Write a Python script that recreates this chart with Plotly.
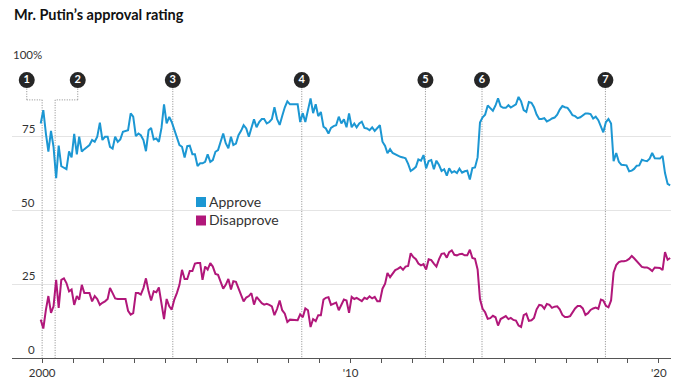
import pandas as pd
import plotly.graph_objects as go

# ---------------- data ----------------
first_month = "1999-12-01"

approve = [
    79.5,
    84, 76, 70, 77, 71.6, 61, 72, 65, 64.6, 64, 70, 68,
    76, 69, 75, 70, 70.8, 71.6, 72.2, 73.9, 73.3, 75, 79.8, 73.9,
    75, 75, 71.6, 71, 75, 73.3, 74.1, 76.7, 77, 77.2, 82.9, 81.8,
    75.2, 76.1, 75.5, 73.9, 70.1, 77.2, 78, 74.1, 74.4, 73.3, 78, 86,
    79.5, 81.7, 80, 77.2, 75, 72.2, 71.6, 68, 71.8, 72, 69.1, 69.1,
    65.1, 66, 66, 66.5, 69, 66.5, 67.1, 69.9, 70.5, 73.3, 76.1, 72.8,
    71.1, 75, 72.2, 72.7, 75.5, 77, 78.9, 77.8, 75, 78, 80.9, 78.2,
    80, 81, 81, 79.5, 80, 81, 85, 81, 79, 82, 85, 87,
    86, 86, 86, 86, 80, 83, 80, 84, 88, 83, 86, 82,
    83.4, 78.4, 77.8, 76.1, 78, 78.6, 78.9, 81.8, 79.5, 80.9, 78.2, 82.9,
    78.2, 79.5, 78.2, 79.5, 80.1, 78, 77.8, 77.2, 78.2, 77, 77.8, 78.9,
    73.3, 71.9, 69.4, 70.8, 69.5, 69.1, 68.5, 68.2, 68, 67.7, 65.8, 63.4,
    64, 64.8, 67.3, 66.9, 68.8, 64.3, 66.8, 67.1, 64, 66.9, 65.4, 63.4,
    64, 61.8, 64.3, 62.8, 63.3, 62.7, 64.2, 62.8, 63.3, 63.5, 60.5, 64.4,
    64.6, 68, 79.8, 81.6, 82.5, 85.6, 84.7, 83.8, 85.6, 88, 85.3, 84.8,
    84.8, 85.7, 84.9, 85.4, 86, 88.5, 87, 84, 83.4, 86.8, 86.5, 85,
    82.5, 81, 81, 81.3, 80.2, 80.6, 81.2, 81.5, 82.5, 84.2, 85.4, 85,
    84.8, 83.6, 82.3, 82, 81.3, 81.6, 82.4, 82.9, 82.9, 82.7, 81.2, 81.8,
    80.6, 78.5, 76.5, 80, 81, 79.5, 66.7, 69.5, 66.5, 65.5, 65.5, 65.3,
    63.3, 63.5, 64.1, 65.2, 65.3, 67.2, 66.9, 66.7, 67.6, 69.5, 67.7, 67.6,
    67.6, 68.5, 62.7, 59, 58.5,
]

disapprove = [
    13,
    10, 16.4, 21, 15.3, 17.5, 26.5, 17, 26.5, 27, 25.4, 22.6, 23.2,
    18, 21, 19.8, 24.8, 22, 22, 22, 19.2, 21, 20, 18, 18.7,
    19.2, 20, 23.7, 22, 20.2, 20, 20, 20, 20, 16, 14.7, 15.2,
    22, 22, 21.5, 23.7, 27, 22.6, 19.5, 22.6, 22.3, 23.9, 19, 13.2,
    20, 17.5, 16.4, 19.8, 22, 24.8, 29.9, 26.8, 26.8, 29.5, 29.5, 32,
    32.2, 32.2, 26.5, 31, 30, 32.2, 31, 28.5, 28.2, 26, 23.5, 24.8,
    26.8, 23.2, 26, 25.8, 23.5, 21.5, 19.2, 20.5, 21, 22, 18.1, 20.7,
    19.5, 18.6, 18.1, 18.4, 18, 17.5, 14.5, 16.6, 19.5, 16.2, 15, 12.2,
    13, 13, 13, 12.8, 14.8, 13.8, 16.8, 16.2, 10.5, 13.2, 12.5, 14.5,
    14.5, 19.8, 20.4, 20.6, 18, 18.4, 18.8, 16.2, 17.9, 19.8, 19.5, 15.3,
    20.7, 20, 20.4, 19.8, 19.3, 20.4, 20, 20.9, 20.2, 20.7, 19.2, 19.2,
    23.5, 25.2, 28.8, 27.4, 28.4, 29.8, 30.2, 30.8, 29.9, 31, 31.2, 35.5,
    34.2, 33.5, 32, 31.4, 31.8, 30, 33.5, 33.2, 32, 31, 33.5, 35.3,
    35.5, 34, 35.9, 36.5, 35, 34.8, 35.2, 35.3, 34.8, 34.8, 36.7, 33.9,
    33.6, 30, 20, 16.7, 15.5, 13.3, 13.5, 14.3, 13.8, 11, 13.2, 13.6,
    14.2, 13.2, 13.6, 12.9, 12.7, 11, 10.5, 14.5, 15, 12.6, 12.8, 13.6,
    16.5, 18, 17.8, 16.7, 18.3, 18, 17, 17.4, 17.5, 16.5, 14.6, 13.9,
    13.9, 14.2, 15.6, 16.8, 17.6, 17.6, 16.8, 14.6, 15.2, 16.3, 16.8, 17.1,
    16.7, 19.8, 19.5, 17.7, 17.2, 19.5, 29, 31.5, 32.5, 32.8, 32.8, 33,
    33.6, 34.6, 33.8, 32.7, 31.7, 30.9, 30.7, 30.7, 30.2, 29.5, 30.7, 30.7,
    30.5, 29.8, 35.9, 33.3, 33.9,
]

event_dates = ["2000-01-01", "2000-06-03", "2004-03-28", "2008-06-03",
               "2012-06-07", "2014-04-08", "2018-04-09"]
event_labels = ["1", "2", "3", "4", "5", "6", "7"]

y_ticks = [0, 25, 50, 75, 100]
y_tick_text = ["0", "25", "50", "75", "100%"]
x_tick_years = list(range(2000, 2021))
x_tick_text = ["2000" if y == 2000 else ("'" + str(y)[2:] if y % 10 == 0 else "")
               for y in x_tick_years]

series_names = ["Approve", "Disapprove"]
title_text = "Mr. Putin\u2019s approval rating"

# ---------------- styling ----------------
C_APPROVE = "#1c97d3"
C_DISAPPROVE = "#b1177a"
C_TEXT = "#333333"
FONT = "Lato, 'Open Sans', sans-serif"
NUM_FONT = "Lato, sans-serif"

W, H = 680, 383
ML, MR, MT, MB = 12, 9, 63, 25
PW, PH = W - ML - MR, H - MT - MB

def px_x(px):
    return (px - ML) / PW

def px_y(py):
    return (H - MB - py) / PH

assert len(approve) == len(disapprove)
dates = pd.date_range(first_month, periods=len(approve), freq="MS") + pd.Timedelta(days=14)

fig = go.Figure()
fig.add_trace(go.Scatter(x=dates, y=approve, mode="lines", name=series_names[0],
                         line=dict(color=C_APPROVE, width=2), hoverinfo="skip"))
fig.add_trace(go.Scatter(x=dates, y=disapprove, mode="lines", name=series_names[1],
                         line=dict(color=C_DISAPPROVE, width=2), hoverinfo="skip"))

# event markers
marker_y = 94.2
line_top = 91.3
elbow_y = 87.5
label_offset_days = [-182, 268, 0, 0, 0, 0, 0]
ev = pd.to_datetime(event_dates)
label_x = [d + pd.Timedelta(days=o) for d, o in zip(ev, label_offset_days)]

shapes = []
dot = dict(color="#8a8a8a", width=1, dash="1px,1.5px")
for d, lx, off in zip(ev, label_x, label_offset_days):
    if off != 0:
        shapes.append(dict(type="line", xref="x", yref="y", x0=lx, x1=lx,
                           y0=line_top, y1=elbow_y, line=dot, layer="between"))
        shapes.append(dict(type="line", xref="x", yref="y", x0=lx, x1=d,
                           y0=elbow_y, y1=elbow_y, line=dot, layer="between"))
        shapes.append(dict(type="line", xref="x", yref="y", x0=d, x1=d,
                           y0=elbow_y, y1=0, line=dot, layer="between"))
    else:
        shapes.append(dict(type="line", xref="x", yref="y", x0=d, x1=d,
                           y0=line_top, y1=0, line=dot, layer="between"))

fig.add_trace(go.Scatter(
    x=label_x, y=[marker_y] * len(label_x), mode="markers+text",
    text=["<b>" + t + "</b>" for t in event_labels], textposition="middle center",
    textfont=dict(color="white", size=11, family="Lato, sans-serif"),
    marker=dict(size=16, color="#262626", line=dict(width=0)),
    cliponaxis=False, showlegend=False, hoverinfo="skip"))

# legend (custom squares)
leg_x0 = 196
leg_rows = [(197, C_APPROVE, series_names[0]), (215.5, C_DISAPPROVE, series_names[1])]
annotations = []
for top, col, name in leg_rows:
    shapes.append(dict(type="rect", xref="paper", yref="paper",
                       x0=px_x(leg_x0), x1=px_x(leg_x0 + 10),
                       y0=px_y(top + 10), y1=px_y(top),
                       fillcolor=col, line=dict(width=0)))
    annotations.append(dict(xref="paper", yref="paper", x=px_x(leg_x0 + 11),
                            y=px_y(top + 4), text=name, showarrow=False,
                            xanchor="left", yanchor="middle",
                            font=dict(family=FONT, size=14, color=C_TEXT)))

# y labels above gridlines
for v, t in zip(y_ticks, y_tick_text):
    right = 44 if t.endswith("%") else 37
    annotations.append(dict(xref="paper", yref="y", x=px_x(right), y=v,
                            text=t, showarrow=False, xanchor="right",
                            yanchor="bottom", yshift=0,
                            font=dict(family=NUM_FONT, size=11.5, color=C_TEXT)))

# title
annotations.append(dict(xref="paper", yref="paper", x=px_x(12), y=px_y(15),
                        text="<b>" + title_text + "</b>", showarrow=False,
                        xanchor="left", yanchor="middle",
                        font=dict(family=FONT, size=14.5, color="#111111")))

fig.update_layout(
    width=W, height=H,
    margin=dict(l=ML, r=MR, t=MT, b=MB, pad=0, autoexpand=False),
    paper_bgcolor="white", plot_bgcolor="white",
    showlegend=False, hovermode=False,
    shapes=shapes, annotations=annotations,
    xaxis=dict(type="date", range=["1999-01-09", "2020-05-25"], automargin=False,
               tickvals=[pd.Timestamp(f"{y}-01-01") for y in x_tick_years],
               ticktext=x_tick_text, ticks="outside", ticklen=4, tickwidth=1,
               tickcolor="#555555", showline=True, linecolor="#555555", linewidth=1,
               showgrid=False, zeroline=False, fixedrange=True,
               tickfont=dict(family=NUM_FONT, size=11.5, color=C_TEXT)),
    yaxis=dict(range=[0, 100], tickvals=y_ticks[1:], showticklabels=False,
               showgrid=True, gridcolor="#e4e4e4", gridwidth=1, zeroline=False,
               showline=False, ticks="", automargin=False, fixedrange=True),
)

fig.write_html("out.html", config={"displayModeBar": False, "staticPlot": True},
               post_script="document.body.style.margin='0';document.body.style.overflow='hidden';")
